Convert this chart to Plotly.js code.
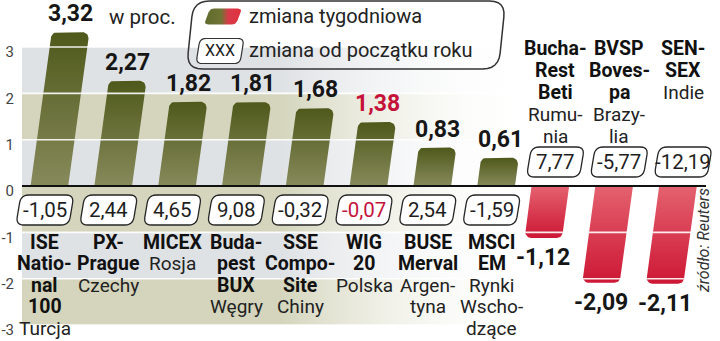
<!DOCTYPE html>
<html><head><meta charset="utf-8">
<script src="https://cdn.plot.ly/plotly-3.0.1.min.js"></script>
<style>html,body{margin:0;padding:0;background:#fff}#chart{width:720px;height:341px}</style>
</head><body><div id="chart"></div>
<script>
// ---------- DATA ----------
const names = ["ISE\nNatio-\nnal\n100", "PX-\nPrague", "MICEX", "Buda-\npest\nBUX", "SSE\nCompo-\nSite", "WIG\n20", "BUSE\nMerval", "MSCI\nEM", "Bucha-\nRest\nBeti", "BVSP\nBoves-\npa", "SEN-\nSEX"];
const countries = ["Turcja", "Czechy", "Rosja", "Węgry", "Chiny", "Polska", "Argen-\ntyna", "Rynki\nWscho-\ndzące", "Rumu-\nnia", "Brazy-\nlia", "Indie"];
const weekly = [3.32, 2.27, 1.82, 1.81, 1.68, 1.38, 0.83, 0.61, -1.12, -2.09, -2.11];
const ytd = [-1.05, 2.44, 4.65, 9.08, -0.32, -0.07, 2.54, -1.59, 7.77, -5.77, -12.19];
const highlightIndex = 5;
const yTickVals = [-3, -2, -1, 0, 1, 2, 3];
const yTickText = ["-3", "-2", "-1", "0", "1", "2", "3"];
const unitText = "w proc.";
const legendWeekly = "zmiana tygodniowa";
const legendYtd = "zmiana od początku roku";
const legendBoxText = "XXX";
const sourceText = "źródło: Reuters";

// ---------- GEOMETRY / STYLE ----------
const W = 720, H = 341;
const X0 = 13, X1 = 715;
const N = names.length;
const XU = (X1 - X0) / N;
const YMIN = -3.345, YMAX = 4.015;
const YU = H / (YMAX - YMIN);
const ZERO_PX = H + YMIN * YU;
const toX = px => (px - X0) / XU - 0.5;
const toY = py => (ZERO_PX - py) / YU;
const pX = px => px / W, pY = py => 1 - py / H;
const FONT = 'Roboto, "Liberation Sans", Arial, sans-serif';
const RED = '#c5123b';
const fmt = v => v.toFixed(2).replace('.', ',');

const SLOPE = 0.1;       // lean of the bars per value unit (category units)
const HW = 0.295;        // half bar width, category units
const RX = 6 / XU, RY = 6 / YU;

function roundedPoly(cx, cy, w, h, r, s) { // pixel space, y down, top edge shifted right by s
  const TL = [cx - w / 2 + s / 2, cy - h / 2], TR = [cx + w / 2 + s / 2, cy - h / 2],
        BR = [cx + w / 2 - s / 2, cy + h / 2], BL = [cx - w / 2 - s / 2, cy + h / 2];
  const along = (a, b, d) => { const L = Math.hypot(b[0] - a[0], b[1] - a[1]); return [a[0] + (b[0] - a[0]) * d / L, a[1] + (b[1] - a[1]) * d / L]; };
  const pts = [];
  const corner = (prev, C, next) => {
    const A = along(C, prev, r), B = along(C, next, r);
    for (let k = 0; k <= 6; k++) { const t = k / 6;
      pts.push([(1 - t) * (1 - t) * A[0] + 2 * (1 - t) * t * C[0] + t * t * B[0], (1 - t) * (1 - t) * A[1] + 2 * (1 - t) * t * C[1] + t * t * B[1]]); }
  };
  corner(BL, TL, TR); corner(TL, TR, BR); corner(TR, BR, BL); corner(BR, BL, TL);
  return pts;
}
const pathFrom = (pts, map) => 'M' + pts.map(p => { const m = map(p[0], p[1]); return m[0] + ',' + m[1]; }).join(' L') + ' Z';

const traces = [];
const shapes = [];
const annotations = [];

// background bands, fading to white on the right
const bandColors = ['#dfe2e5', '#d4d5bc'];
const bandL = toX(22), bandFade = toX(540), bandR = N - 0.5;
for (let j = 0; j < 6; j++) {
  const top = 3 - j, bot = 2 - j, c = bandColors[j % 2];
  traces.push({type: 'scatter', mode: 'lines', x: [bandL, bandR, bandR, bandL, bandL], y: [bot, bot, top, top, bot],
    fill: 'toself', line: {width: 0, color: 'rgba(0,0,0,0)'}, hoverinfo: 'skip',
    fillgradient: {type: 'horizontal', start: bandL, stop: bandFade,
      colorscale: [[0, c], [0.5, c], [1, 'rgba(255,255,255,0)']]}});
}

// bars (leaning, rounded end)
weekly.forEach((v, i) => {
  const neg = v < 0;
  const off = neg ? -0.08 : 0.07;
  const c = t => i + off + SLOPE * t;
  const xs = [], ys = [];
  const push = (x, y) => { xs.push(x); ys.push(y); };
  if (!neg) {
    push(c(0) - HW, 0); push(c(0) + HW, 0);
    const yc = v - RY;
    const rc = c(yc) + HW - RX, lc = c(yc) - HW + RX;
    for (let k = 0; k <= 8; k++) { const a = k / 8 * Math.PI / 2; push(rc + RX * Math.cos(a), yc + RY * Math.sin(a)); }
    for (let k = 0; k <= 8; k++) { const a = Math.PI / 2 + k / 8 * Math.PI / 2; push(lc + RX * Math.cos(a), yc + RY * Math.sin(a)); }
  } else {
    push(c(0) - HW, 0);
    const yc = v + RY;
    const lc = c(yc) - HW + RX, rc = c(yc) + HW - RX;
    for (let k = 0; k <= 8; k++) { const a = Math.PI + k / 8 * Math.PI / 2; push(lc + RX * Math.cos(a), yc + RY * Math.sin(a)); }
    for (let k = 0; k <= 8; k++) { const a = 1.5 * Math.PI + k / 8 * Math.PI / 2; push(rc + RX * Math.cos(a), yc + RY * Math.sin(a)); }
    push(c(0) + HW, 0);
  }
  xs.push(xs[0]); ys.push(ys[0]);
  traces.push({type: 'scatter', mode: 'lines', x: xs, y: ys, fill: 'toself', hoverinfo: 'skip',
    line: {width: 0, color: 'rgba(0,0,0,0)'},
    fillgradient: {type: 'vertical', colorscale: neg ? [[0, '#cd1735'], [1, '#e4626f']] : [[0, '#878a5b'], [1, '#4f591b']]}});

  // value label
  const tipX = i + off + SLOPE * v;
  annotations.push({x: tipX, y: v, xref: 'x', yref: 'y', text: fmt(v), showarrow: false, xanchor: 'center',
    yanchor: neg ? 'top' : 'bottom', yshift: neg ? -4 : 3,
    font: {family: FONT, size: 23, weight: 'bold', color: i === highlightIndex ? RED : '#161616'}});

  // year-to-date box
  const boxCy = ZERO_PX + (neg ? -24 : 24);
  const boxCx = X0 + (i + 0.5) * XU;
  shapes.push({type: 'path', xref: 'x', yref: 'y', layer: 'above',
    path: pathFrom(roundedPoly(boxCx, boxCy, 53, 30, 8, 5), (a, b) => [toX(a), toY(b)]),
    fillcolor: '#ffffff', line: {color: '#262626', width: 1.3}});
  annotations.push({x: i, y: toY(boxCy), xref: 'x', yref: 'y', text: fmt(ytd[i]), showarrow: false, xanchor: 'center', yanchor: 'middle',
    font: {family: FONT, size: 20.5, color: i === highlightIndex ? RED : '#1e1e1e'}});

  // category labels (name bold, country regular)
  const lines = names[i].split('\n').map(t => ({t, b: true})).concat(countries[i].split('\n').map(t => ({t, b: false})));
  lines.forEach((ln, j) => {
    annotations.push({x: i, y: 0, xref: 'x', yref: 'y', text: ln.t, showarrow: false, xanchor: 'center', yanchor: 'middle',
      yshift: neg ? (138 - 22 * j) : -(56 + 21.6 * j),
      font: {family: FONT, size: ln.b ? 19.5 : 19, weight: ln.b ? 'bold' : 'normal', color: ln.b ? '#111' : '#222'}});
  });
});

// white band separators (drawn over the bars) and zero line
[3, 2, 1, -1, -2, -3].forEach(g => shapes.push({type: 'line', xref: 'paper', yref: 'y', x0: pX(22), x1: 1, y0: g, y1: g,
  layer: 'above', line: {color: 'rgba(255,255,255,0.9)', width: 1.6}}));
shapes.push({type: 'line', xref: 'paper', yref: 'y', x0: pX(22), x1: pX(706), y0: 0, y1: 0, layer: 'above', line: {color: '#111', width: 2}});

// legend
const pmap = (a, b) => [pX(a), pY(b)];
shapes.push({type: 'path', xref: 'paper', yref: 'paper', layer: 'above',
  path: pathFrom(roundedPoly(346, 35, 312, 68, 16, 7), pmap), fillcolor: 'rgba(0,0,0,0)', line: {color: '#333', width: 1.5}});
shapes.push({type: 'path', xref: 'paper', yref: 'paper', layer: 'above',
  path: pathFrom(roundedPoly(220, 51, 44, 25, 6, 4), pmap), fillcolor: '#fff', line: {color: '#333', width: 1.2}});
const sw = roundedPoly(223, 16.5, 32, 16, 4, 6);
traces.push({type: 'scatter', mode: 'lines', x: sw.map(p => toX(p[0])).concat([toX(sw[0][0])]), y: sw.map(p => toY(p[1])).concat([toY(sw[0][1])]),
  fill: 'toself', hoverinfo: 'skip', line: {width: 0, color: 'rgba(0,0,0,0)'},
  fillgradient: {type: 'horizontal', colorscale: [[0, '#5e6b2c'], [0.45, '#6f7434'], [0.65, '#d83a48'], [1, '#e0303f']]}});
const legendText = (x, y, text, size, anchor) => ({xref: 'paper', yref: 'paper', x: pX(x), y: pY(y), xanchor: anchor, yanchor: 'middle',
  text, showarrow: false, font: {family: FONT, size, color: '#222'}});
annotations.push(legendText(220, 51, legendBoxText, 16, 'center'));
annotations.push(legendText(247, 16, legendWeekly, 20, 'left'));
annotations.push(legendText(247, 50, legendYtd, 20, 'left'));
annotations.push(legendText(107, 17, unitText, 20.5, 'left'));
annotations.push({xref: 'paper', yref: 'paper', x: pX(703), y: pY(241), xanchor: 'center', yanchor: 'middle', text: sourceText, textangle: -90,
  showarrow: false, font: {family: FONT, size: 16, style: 'italic', color: '#333'}});

const layout = {
  width: W, height: H, margin: {l: 0, r: 0, t: 0, b: 0},
  paper_bgcolor: '#ffffff', plot_bgcolor: 'rgba(0,0,0,0)', showlegend: false,
  xaxis: {domain: [X0 / W, X1 / W], range: [-0.5, N - 0.5], visible: false, fixedrange: true},
  yaxis: {domain: [0, 1], range: [YMIN, YMAX], tickvals: yTickVals, ticktext: yTickText, ticks: '',
    showgrid: false, zeroline: false, showline: false, ticklabelshift: 5, ticklabelstandoff: -2,
    tickfont: {family: FONT, size: 15, color: '#444'}, fixedrange: true},
  shapes, annotations
};
Plotly.newPlot('chart', traces, layout, {staticPlot: true, displayModeBar: false});
</script>
</body></html>
